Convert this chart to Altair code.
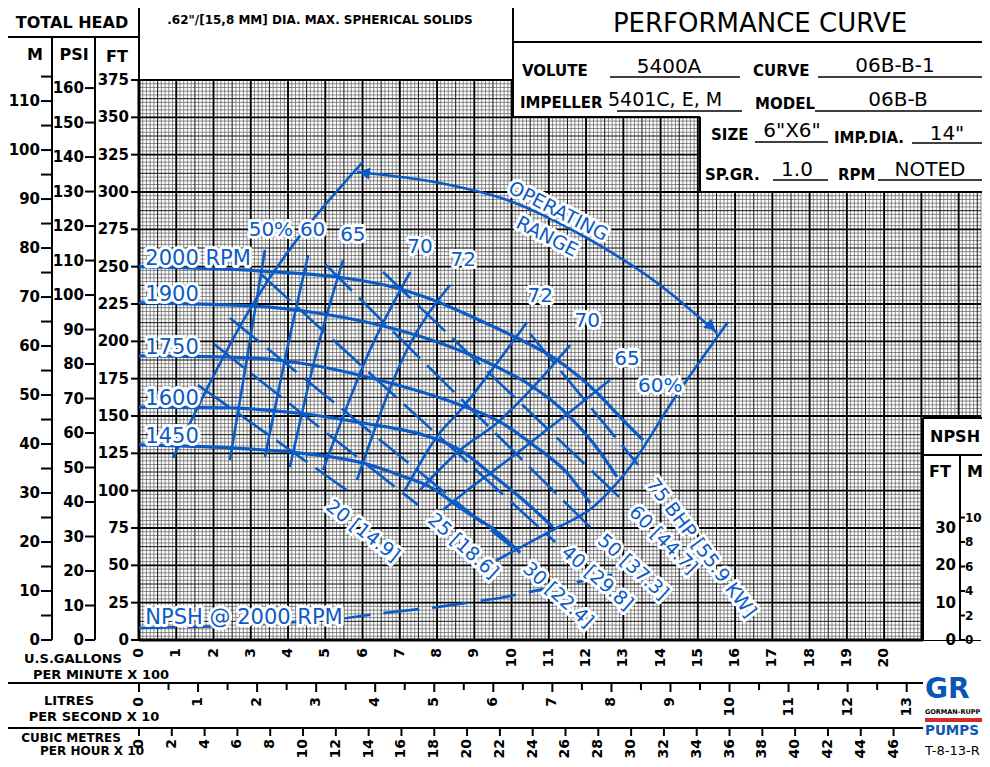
import altair as alt
import numpy as np
import pandas as pd

BLUE = "#0b5bc6"
FONT = "DejaVu Sans"

# plot area on the page (pixels) and data domain
OX, OY = 139, 80
W, H = 842, 560
Q_MAX, H_MAX = 22.6, 375

# ---------------- values ----------------
# head-capacity curves: capacity in US GPM x 100, total head in ft
Q_2000 = [0.00, 1.37, 2.79, 4.05, 5.32, 7.01, 8.03, 9.15, 10.04, 11.22, 12.30, 12.99, 13.53]
H_2000 = [250.0, 249.1, 247.8, 245.8, 243.1, 235.1, 226.4, 214.0, 203.5, 187.5, 165.4, 147.3, 133.9]
Q_1900 = [0.00, 2.98, 4.78, 6.66, 8.08, 9.61, 10.58, 11.57, 12.19, 12.83]
H_1900 = [225.7, 223.7, 219.0, 209.6, 198.9, 182.8, 169.4, 149.3, 131.9, 109.2]
Q_1750 = [0.00, 2.26, 3.70, 6.74, 8.62, 9.69, 10.58, 11.49, 12.11]
H_1750 = [190.2, 189.5, 187.5, 172.1, 157.4, 146.0, 130.6, 111.8, 91.7]
Q_1600 = [0.00, 2.44, 4.24, 6.01, 7.81, 8.62, 9.42, 10.31, 11.11]
H_1600 = [156.0, 155.4, 152.0, 145.3, 135.9, 127.2, 111.8, 93.8, 75.7]
Q_1450 = [0.00, 2.44, 4.05, 6.01, 7.08, 7.81, 8.70, 9.61, 10.23]
H_1450 = [130.6, 128.6, 125.9, 118.5, 109.7, 102.5, 87.1, 72.5, 58.3]
RPM_LABELS = ["2000  RPM", "1900", "1750", "1600", "1450"]
RPM_LABEL_H = [250.0, 225.7, 190.2, 156.0, 130.6]

# efficiency lines
E50_Q, E50_H = [2.44, 2.91, 3.38], [120.5, 190.2, 261.2]
E60_Q, E60_H = [3.38, 3.97, 4.54], [122.5, 194.2, 257.8]
E65_Q, E65_H = [4.05, 4.78, 5.48], [115.8, 194.2, 254.5]
E70_Q, E70_H = [4.94, 6.20, 7.28], [113.8, 194.2, 246.4]
E72L_Q, E72L_H = [5.85, 7.19, 8.35], [107.1, 194.2, 237.7]
E72R_Q, E72R_H = [7.14, 7.99, 8.70, 9.61, 10.42], [100.4, 135.9, 156.0, 185.5, 213.0]
E70R_Q, E70R_H = [7.54, 8.62, 9.61, 10.58, 11.57], [100.4, 127.2, 145.3, 169.4, 197.5]
E65R_Q, E65R_H = [8.16, 8.89, 9.83, 10.77, 11.70, 12.64], [87.1, 101.8, 119.2, 137.3, 155.4, 174.1]
E60R_Q, E60R_H = [9.42, 9.96, 11.11, 12.19, 13.18, 14.34, 15.81], [50.9, 58.3, 73.7, 89.1, 115.9, 160.7, 213.0]
EFF_LABELS = ["50%", "60", "65", "70", "72", "72", "70", "65", "60%"]
EFF_LABEL_Q = [3.54, 4.66, 5.74, 7.54, 8.70, 10.77, 12.03, 13.10, 13.99]
EFF_LABEL_H = [274.6, 274.6, 271.2, 263.2, 254.5, 230.4, 213.6, 188.2, 169.8]

# operating range boundary and arc
OPL_Q, OPL_H = [0.91, 3.03, 6.01], [121.9, 223.7, 320.1]
OPA_Q = [5.85, 8.08, 9.88, 12.11, 13.91, 15.52]
OPA_H = [313.4, 306.0, 294.6, 267.9, 239.1, 205.6]
ARROW_Q, ARROW_H, ARROW_ANGLE = [6.05, 15.36], [312.9, 209.8], [188, 40]
OP_TEXT = ["OPERATING", "RANGE"]
OP_TEXT_Q, OP_TEXT_H = [11.25, 10.95], [287.0, 270.0]

# brake horsepower lines (start and end), labels
BHP = [20, 25, 30, 40, 50, 60, 75]
BHP_TEXT = ["20 [14.9]", "25 [18.6]", "30 [22.4]", "40 [29.8]", "50 [37.3]", "60 [44.7]", "75 BHP [55.9 KW]"]
BHP_Q0 = [1.58, 2.01, 2.44, 3.30, 4.99, 6.55, 10.50]
BHP_H0 = [170.8, 198.2, 215.6, 244.4, 251.8, 246.4, 204.9]
BHP_Q1 = [5.80, 7.49, 10.04, 11.17, 12.13, 12.97, 13.40]
BHP_H1 = [96.4, 90.4, 61.6, 65.6, 75.0, 93.8, 117.2]
BHP_LABEL_Q = [6.01, 8.70, 11.25, 12.30, 13.26, 14.07, 15.09]
BHP_LABEL_H = [73.0, 62.9, 30.1, 41.5, 48.9, 67.0, 61.6]
BHP_LABEL_ANGLE = [38, 42, 42, 41, 42, 45, 53]

# NPSH required at 2000 RPM (ft, read on the NPSH scale)
NPSH_Q = [0.00, 2.44, 4.13, 5.58, 6.55, 8.00, 9.69, 11.38, 12.64, 13.13]
NPSH_FT = [3.2, 3.75, 4.8, 5.9, 7.2, 8.8, 11.25, 14.7, 17.4, 18.2]

# axis tick labels
FT_TICKS = list(range(0, 376, 25))
PSI_TICKS = list(range(0, 161, 10))
M_TICKS = list(range(0, 111, 10))
M_MINOR = list(range(5, 116, 10))
GPM_TICKS = list(range(0, 21))
LPS_TICKS = list(range(0, 14))
M3H_TICKS = list(range(0, 47, 2))
NPSH_FT_TICKS = [0, 10, 20, 30]
NPSH_M_TICKS = [0, 2, 4, 6, 8, 10]

# ---------------- helpers ----------------
xs = alt.Scale(domain=[0, Q_MAX], nice=False, zero=False)
ys = alt.Scale(domain=[0, H_MAX], nice=False, zero=False)


def X(f):
    return alt.X(f, scale=xs, axis=None)


def Y(f):
    return alt.Y(f, scale=ys, axis=None)


def page_rules(segs, **kw):
    df = pd.DataFrame(segs, columns=["x1", "y1", "x2", "y2"]).astype(float)
    df[["x1", "x2"]] -= OX
    df[["y1", "y2"]] -= OY
    return alt.Chart(df).mark_rule(**kw).encode(
        x=alt.X("x1:Q", scale=None), x2="x2:Q",
        y=alt.Y("y1:Q", scale=None), y2="y2:Q")


def page_rects(boxes, **kw):
    df = pd.DataFrame(boxes, columns=["x1", "y1", "x2", "y2"]).astype(float)
    df[["x1", "x2"]] -= OX
    df[["y1", "y2"]] -= OY
    return alt.Chart(df).mark_rect(**kw).encode(
        x=alt.X("x1:Q", scale=None), x2="x2:Q",
        y=alt.Y("y1:Q", scale=None), y2="y2:Q")


def page_text(rows, **kw):
    df = pd.DataFrame(rows, columns=["t", "px", "py"])
    df["cx"] = df["px"] - OX
    df["cy"] = df["py"] - OY
    return alt.Chart(df).mark_text(font=FONT, **kw).encode(
        x=alt.X("cx:Q", scale=None), y=alt.Y("cy:Q", scale=None), text="t:N")


def halo_text(df, extra=None, **kw):
    enc = dict(x=X("q:Q"), y=Y("h:Q"), text="t:N")
    if extra:
        enc.update(extra)
    back = alt.Chart(df).mark_text(font=FONT, color="white", stroke="white",
                                   strokeWidth=6, strokeJoin="round", **kw).encode(**enc)
    front = alt.Chart(df).mark_text(font=FONT, color=BLUE, **kw).encode(**enc)
    return [back, front]


layers = []

# ---------------- grid ----------------
gi = np.arange(0, int(round(Q_MAX * 10)) + 1)
grid_v = pd.DataFrame({"q": gi / 10.0, "h0": 0.0, "h1": float(H_MAX),
                       "k": np.where(gi % 10 == 0, "major", np.where(gi % 5 == 0, "half", "fine"))})
gj = np.arange(0, int(H_MAX / 2.5) + 1)
grid_h = pd.DataFrame({"h": gj * 2.5, "q0": 0.0, "q1": Q_MAX,
                       "k": np.where(gj % 10 == 0, "major", np.where(gj % 5 == 0, "half", "fine"))})
GRID_STYLE = {"fine": ("#5a5a5a", 0.7), "half": ("#151515", 1.0), "major": ("#000000", 1.9)}
for k in ["fine", "half", "major"]:
    c, w = GRID_STYLE[k]
    layers.append(alt.Chart(grid_v[grid_v.k == k]).mark_rule(color=c, strokeWidth=w).encode(
        x=X("q:Q"), y=Y("h0:Q"), y2="h1:Q"))
    layers.append(alt.Chart(grid_h[grid_h.k == k]).mark_rule(color=c, strokeWidth=w).encode(
        y=Y("h:Q"), x=X("q0:Q"), x2="q1:Q"))

# ---------------- white panels and frame ----------------
layers.append(page_rects([(513, 5, 995, 117), (700, 117, 995, 192), (923, 418, 995, 640)],
                         fill="white"))
FRAME = [
    (7, 5, 995, 5), (7, 5, 7, 767), (7, 37, 139, 37), (52, 37, 52, 640), (95, 37, 95, 640),
    (139, 5, 139, 80), (513, 5, 513, 117), (513, 42, 995, 42), (513, 117, 700, 117),
    (700, 117, 700, 192), (700, 192, 995, 192), (923, 418, 995, 418), (923, 418, 923, 640),
    (923, 455, 995, 455), (960, 455, 960, 640), (7, 683, 923, 683), (7, 728, 923, 728),
]
layers.append(page_rules(FRAME, color="black", strokeWidth=2))
layers.append(page_rules([(139, 640, 923, 640), (139, 80, 139, 640)], color="black", strokeWidth=3))
UNDERLINES = [(610, 77, 740, 77), (818, 77, 987, 77), (617, 111, 742, 111), (815, 111, 987, 111),
              (755, 142, 828, 142), (912, 143, 983, 143), (773, 180, 828, 180), (878, 180, 983, 180)]
layers.append(page_rules(UNDERLINES, color="black", strokeWidth=1.3))

# ---------------- title block & captions ----------------
layers.append(page_text([("TOTAL HEAD", 72, 23), ("M", 35, 55), ("PSI", 74, 55), ("FT", 117, 57)],
                        fontSize=16, fontWeight="bold", align="center", baseline="middle"))
layers.append(page_text([('.62"/[15,8 MM] DIA. MAX. SPHERICAL SOLIDS', 320, 20)],
                        fontSize=12, fontWeight="bold", align="center", baseline="middle"))
layers.append(page_text([("PERFORMANCE CURVE", 760, 24)],
                        fontSize=26, align="center", baseline="middle"))
layers.append(page_text([("VOLUTE", 522, 71), ("CURVE", 753, 71), ("IMPELLER", 520, 103),
                         ("MODEL", 755, 104), ("SIZE", 711, 135), ("IMP.DIA.", 834, 138),
                         ("SP.GR.", 705, 175), ("RPM", 838, 175)],
                        fontSize=15, fontWeight="bold", align="left", baseline="middle"))
layers.append(page_text([("5400A", 669, 67), ("06B-B-1", 895, 66),
                         ("06B-B", 898, 100), ('6"X6"', 792, 131), ('14"', 947, 134),
                         ("1.0", 797, 170), ("NOTED", 930, 170)],
                        fontSize=20, align="center", baseline="middle"))
layers.append(page_text([("5401C, E, M", 608, 100)],
                        fontSize=19, align="left", baseline="middle"))
layers.append(page_text([("U.S.GALLONS", 73, 659), ("PER MINUTE X 100", 101, 675),
                         ("LITRES", 69, 701), ("PER SECOND X 10", 94, 717)],
                        fontSize=13, fontWeight="bold", align="center", baseline="middle"))
layers.append(page_text([("CUBIC METRES", 71, 738), ("PER HOUR X 10", 92, 751)],
                        fontSize=12, fontWeight="bold", align="center", baseline="middle"))
layers.append(page_text([("NPSH", 930, 437), ("FT", 929, 472), ("M", 967, 472)],
                        fontSize=16, fontWeight="bold", align="left", baseline="middle"))
# logo block
layers.append(page_rects([(925, 718, 995, 722)], fill="#d42a2a"))
layers.append(page_text([("GR", 925, 690)], fontSize=28, fontWeight="bold",
                        color="#0a55b8", align="left", baseline="middle"))
layers.append(page_text([("GORMAN-RUPP", 925, 712)], fontSize=6.5, fontWeight="bold",
                        align="left", baseline="middle"))
layers.append(page_text([("PUMPS", 925, 731)], fontSize=13.5, fontWeight="bold",
                        color="#0a55b8", align="left", baseline="middle"))
layers.append(page_text([("T-8-13-R", 925, 751)], fontSize=13,
                        align="left", baseline="middle"))

# ---------------- left head scales ----------------
ft_df = pd.DataFrame({"h": FT_TICKS, "t": [str(v) for v in FT_TICKS]})
psi_df = pd.DataFrame({"h": [v * 2.31 for v in PSI_TICKS], "t": [str(v) for v in PSI_TICKS]})
m_df = pd.DataFrame({"h": [v * 3.28084 for v in M_TICKS], "t": [str(v) for v in M_TICKS]})
mm_df = pd.DataFrame({"h": [v * 3.28084 for v in M_MINOR]})
tick_kw = dict(font=FONT, fontSize=15, fontWeight="bold", align="right", baseline="middle")
for df, lx, t0, t1 in [(ft_df, OX - 10, OX - 8, OX), (psi_df, 84, 85, 95), (m_df, 40, 41, 52)]:
    layers.append(alt.Chart(df).mark_text(**tick_kw).encode(
        x=alt.value(lx - OX), y=Y("h:Q"), text="t:N"))
    layers.append(alt.Chart(df).mark_rule(color="black", strokeWidth=2).encode(
        x=alt.value(t0 - OX), x2=alt.value(t1 - OX), y=Y("h:Q")))
layers.append(alt.Chart(mm_df).mark_rule(color="black", strokeWidth=2).encode(
    x=alt.value(41 - OX), x2=alt.value(52 - OX), y=Y("h:Q")))

# ---------------- bottom capacity scales ----------------
rot_kw = dict(font=FONT, fontSize=14, fontWeight="bold", angle=270, align="right", baseline="middle")
gpm_df = pd.DataFrame({"q": GPM_TICKS, "t": [str(v) for v in GPM_TICKS]})
layers.append(alt.Chart(gpm_df).mark_text(**rot_kw).encode(
    x=X("q:Q"), y=alt.value(648 - OY), text="t:N"))
lps_df = pd.DataFrame({"q": [v * 1.58503 for v in LPS_TICKS], "t": [str(v) for v in LPS_TICKS]})
lps_minor = pd.DataFrame({"q": [(v + 0.5) * 1.58503 for v in LPS_TICKS[:-1]]})
layers.append(alt.Chart(lps_df).mark_text(**rot_kw).encode(
    x=X("q:Q"), y=alt.value(697 - OY), text="t:N"))
layers.append(alt.Chart(lps_df).mark_rule(color="black", strokeWidth=2).encode(
    x=X("q:Q"), y=alt.value(683 - OY), y2=alt.value(692 - OY)))
layers.append(alt.Chart(lps_minor).mark_rule(color="black", strokeWidth=2).encode(
    x=X("q:Q"), y=alt.value(683 - OY), y2=alt.value(690 - OY)))
m3_df = pd.DataFrame({"q": [v * 0.440287 for v in M3H_TICKS], "t": [str(v) for v in M3H_TICKS]})
layers.append(alt.Chart(m3_df).mark_text(**rot_kw).encode(
    x=X("q:Q"), y=alt.value(739 - OY), text="t:N"))
layers.append(alt.Chart(m3_df).mark_rule(color="black", strokeWidth=2).encode(
    x=X("q:Q"), y=alt.value(728 - OY), y2=alt.value(736 - OY)))

# ---------------- NPSH scale ----------------
nf_df = pd.DataFrame({"h": [v * 2.5 for v in NPSH_FT_TICKS], "t": [str(v) for v in NPSH_FT_TICKS]})
nm_df = pd.DataFrame({"h": [v * 3.28084 * 2.5 for v in NPSH_M_TICKS], "t": [str(v) for v in NPSH_M_TICKS]})
layers.append(alt.Chart(nf_df).mark_text(**tick_kw).encode(
    x=alt.value(956 - OX), y=Y("h:Q"), text="t:N"))
layers.append(alt.Chart(nm_df).mark_rule(color="black", strokeWidth=2).encode(
    x=alt.value(960 - OX), x2=alt.value(965 - OX), y=Y("h:Q")))
layers.append(alt.Chart(nm_df).mark_text(font=FONT, fontSize=12, fontWeight="bold", align="left",
                                         baseline="middle").encode(
    x=alt.value(965 - OX), y=Y("h:Q"), text="t:N"))

# ---------------- blue performance curves ----------------
rows = []


def add(series, qs, hs):
    for i, (q, h) in enumerate(zip(qs, hs)):
        rows.append({"series": series, "q": q, "h": h, "i": i})


for name, qs, hs in [("2000", Q_2000, H_2000), ("1900", Q_1900, H_1900), ("1750", Q_1750, H_1750),
                     ("1600", Q_1600, H_1600), ("1450", Q_1450, H_1450)]:
    add("rpm" + name, qs, hs)
head_df = pd.DataFrame(rows)
rows = []
for name, qs, hs in [("50", E50_Q, E50_H), ("60", E60_Q, E60_H), ("65", E65_Q, E65_H),
                     ("70", E70_Q, E70_H), ("72L", E72L_Q, E72L_H), ("72R", E72R_Q, E72R_H),
                     ("70R", E70R_Q, E70R_H), ("65R", E65R_Q, E65R_H), ("60R", E60R_Q, E60R_H),
                     ("opl", OPL_Q, OPL_H), ("arc", OPA_Q, OPA_H)]:
    add(name, qs, hs)
eff_df = pd.DataFrame(rows)
rows = []
for b, q0, h0, q1, h1 in zip(BHP, BHP_Q0, BHP_H0, BHP_Q1, BHP_H1):
    add("bhp%d" % b, [q0, q1], [h0, h1])
bhp_df = pd.DataFrame(rows)
npsh_df = pd.DataFrame({"q": NPSH_Q, "h": [v * 2.5 for v in NPSH_FT], "i": range(len(NPSH_Q))})

layers.append(alt.Chart(bhp_df).mark_line(color=BLUE, strokeWidth=2.6, strokeDash=[38, 10]).encode(
    x=X("q:Q"), y=Y("h:Q"), detail="series:N", order="i:Q"))
layers.append(alt.Chart(npsh_df).mark_line(color=BLUE, strokeWidth=2.6, strokeDash=[36, 13]).encode(
    x=X("q:Q"), y=Y("h:Q"), order="i:Q"))
layers.append(alt.Chart(eff_df).mark_line(color=BLUE, strokeWidth=2.6, interpolate="monotone").encode(
    x=X("q:Q"), y=Y("h:Q"), detail="series:N", order="i:Q"))
layers.append(alt.Chart(head_df).mark_line(color=BLUE, strokeWidth=3.2, interpolate="monotone").encode(
    x=X("q:Q"), y=Y("h:Q"), detail="series:N", order="i:Q"))
arrow_df = pd.DataFrame({"q": ARROW_Q, "h": ARROW_H, "a": ARROW_ANGLE})
layers.append(alt.Chart(arrow_df).mark_point(shape="triangle-right", filled=True, size=150,
                                             color=BLUE, opacity=1).encode(
    x=X("q:Q"), y=Y("h:Q"), angle=alt.Angle("a:Q", scale=None)))

# ---------------- blue labels ----------------
rpm_lab = pd.DataFrame({"q": [0.17] * 5, "h": RPM_LABEL_H, "t": RPM_LABELS})
layers += halo_text(rpm_lab, fontSize=21, align="left", baseline="alphabetic", dy=-2)
npsh_lab = pd.DataFrame({"q": [0.17], "h": [NPSH_FT[0] * 2.5], "t": ["NPSH @ 2000 RPM"]})
layers += halo_text(npsh_lab, fontSize=21, align="left", baseline="alphabetic", dy=-4)
eff_lab = pd.DataFrame({"q": EFF_LABEL_Q, "h": EFF_LABEL_H, "t": EFF_LABELS})
layers += halo_text(eff_lab, fontSize=20, align="center", baseline="middle")
op_lab = pd.DataFrame({"q": OP_TEXT_Q, "h": OP_TEXT_H, "t": OP_TEXT})
layers += halo_text(op_lab, fontSize=19, align="center", baseline="middle", angle=27)
bhp_lab = pd.DataFrame({"q": BHP_LABEL_Q, "h": BHP_LABEL_H, "t": BHP_TEXT, "a": BHP_LABEL_ANGLE})
layers += halo_text(bhp_lab, extra={"angle": alt.Angle("a:Q", scale=None)},
                    fontSize=19, align="center", baseline="middle")

chart = alt.layer(*layers).properties(
    width=W, height=H,
    padding={"left": OX - 8, "top": OY - 8, "right": 1, "bottom": 119},
    autosize=alt.AutoSizeParams(type="none"),
).configure_view(strokeWidth=0)

chart.save("out.html", embed_options={"renderer": "svg", "actions": False})
